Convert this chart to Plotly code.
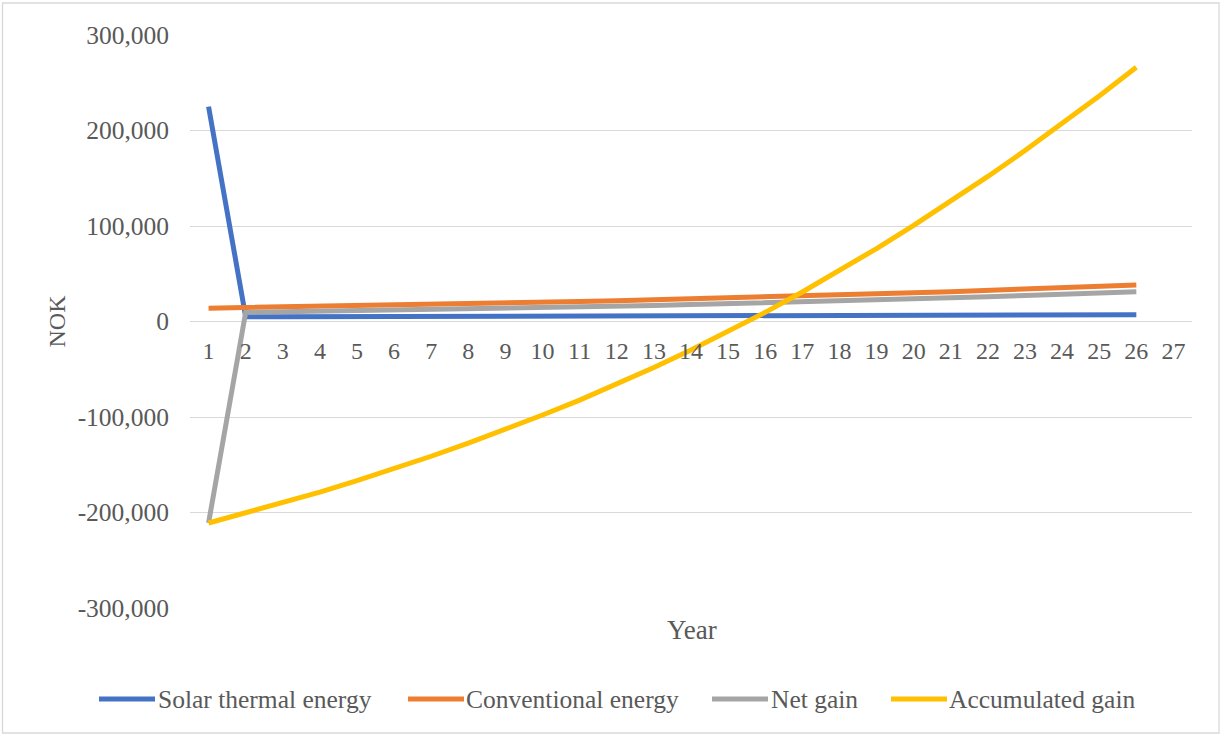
import plotly.graph_objects as go

years = list(range(1, 27))
solar_thermal = [225000, 5000, 5070, 5140, 5210, 5290, 5360, 5440, 5520, 5590, 5670, 5750, 5830,
                 5920, 6000, 6080, 6170, 6260, 6340, 6430, 6520, 6620, 6710, 6800, 6900, 7000]
conventional = [14000, 14570, 15170, 15790, 16440, 17120, 17820, 18550, 19310, 20100, 20920, 21780,
                22680, 23610, 24570, 25580, 26630, 27720, 28860, 30040, 31270, 32550, 33890, 35280,
                36730, 38230]
net_gain = [-211000, 9570, 10100, 10650, 11230, 11830, 12460, 13110, 13790, 14510, 15250, 16030,
            16840, 17690, 18580, 19500, 20460, 21470, 22510, 23610, 24750, 25940, 27180, 28470,
            29830, 31230]
accumulated = [-211000, -200500, -189900, -178600, -166700, -154200, -141100, -127300, -112900,
               -97900, -82300, -65700, -48200, -29800, -10500, 9600, 30900, 53200, 76400, 100600,
               125800, 151900, 179000, 207100, 236200, 266300]

series_names = ["Solar thermal energy", "Conventional energy", "Net gain", "Accumulated gain"]
series_colors = ["#4472C4", "#ED7D31", "#A5A5A5", "#FFC000"]
series_values = [solar_thermal, conventional, net_gain, accumulated]

x_tick_vals = list(range(1, 28))
x_tick_text = [str(v) for v in x_tick_vals]
y_tick_vals = [-300000, -200000, -100000, 0, 100000, 200000, 300000]
y_tick_text = ["-300,000", "-200,000", "-100,000", "0", "100,000", "200,000", "300,000"]

FONT = "Liberation Serif"
TXT = "#595959"
GRID = "#d9d9d9"

fig = go.Figure()
for name, color, vals in zip(series_names, series_colors, series_values):
    fig.add_trace(go.Scatter(x=years, y=vals, mode="lines", name=name,
                             line=dict(color=color, width=5), showlegend=False))

L, R, T, B = 190, 30, 35, 128
W, H = 1222, 736
pw, ph = W - L - R, H - T - B

def px(x):
    return (x - L) / pw

def py(y):
    return (H - B - y) / ph

shapes = [dict(type="rect", xref="paper", yref="paper", x0=px(2.5), x1=px(1219), y0=py(733), y1=py(3),
               line=dict(color=GRID, width=1.3), layer="below")]
annotations = []
legend_items = [(99, 155, 157), (408, 464, 465), (712, 768, 770), (891, 947, 948)]
ly = py(699)
for (x0, x1, tx), name, color in zip(legend_items, series_names, series_colors):
    shapes.append(dict(type="line", xref="paper", yref="paper", x0=px(x0), x1=px(x1), y0=ly, y1=ly,
                       line=dict(color=color, width=5)))
    annotations.append(dict(xref="paper", yref="paper", x=px(tx), y=ly, xanchor="left", yanchor="middle",
                            text=name, showarrow=False, font=dict(family=FONT, size=25.5, color=TXT),
                            borderpad=0))

annotations.append(dict(xref="paper", yref="paper", x=px(692), y=py(630), text="Year", showarrow=False,
                        xanchor="center", yanchor="middle", font=dict(family=FONT, size=27, color=TXT)))
annotations.append(dict(xref="paper", yref="paper", x=px(56), y=0.5, text="NOK", showarrow=False,
                        textangle=-90, xanchor="center", yanchor="middle",
                        font=dict(family=FONT, size=24, color=TXT)))

fig.update_layout(
    width=W, height=H,
    margin=dict(l=L, r=R, t=T, b=B, autoexpand=False),
    paper_bgcolor="white", plot_bgcolor="white",
    shapes=shapes, annotations=annotations,
    xaxis=dict(range=[0.5, 27.5], anchor="free", position=0.5, showgrid=False, zeroline=False,
               showline=False, tickmode="array", tickvals=x_tick_vals, ticktext=x_tick_text,
               ticks="", ticklabelstandoff=12, tickfont=dict(family=FONT, size=24, color=TXT)),
    yaxis=dict(range=[-300000, 300000], showgrid=True, gridcolor=GRID, gridwidth=1.3, zeroline=False,
               showline=False, tickmode="array", tickvals=y_tick_vals, ticktext=y_tick_text,
               ticks="", ticklabelstandoff=20, tickfont=dict(family=FONT, size=25.5, color=TXT)),
)

fig.write_html("out.html", config={"displayModeBar": False},
               post_script="document.body.style.margin='0';")
